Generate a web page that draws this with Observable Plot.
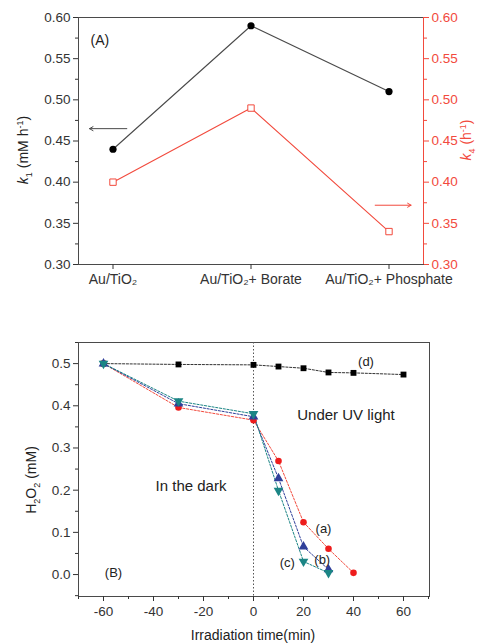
<!DOCTYPE html>
<html><head><meta charset="utf-8">
<script src="https://cdn.jsdelivr.net/npm/d3@7"></script>
<script src="https://cdn.jsdelivr.net/npm/@observablehq/plot@0.6"></script>
<style>
body{margin:0;background:#fff;width:481px;height:643px;position:relative;overflow:hidden;}
#a{position:absolute;left:0;top:0;}
#b{position:absolute;left:0;top:300px;}
</style></head>
<body><div id="a"></div><div id="b"></div>
<script>
// ---- Panel A data
const categories = ["Au/TiO₂", "Au/TiO₂+ Borate", "Au/TiO₂+ Phosphate"];
const k1 = [0.44, 0.59, 0.51];
const k4 = [0.40, 0.49, 0.34];
const yTicksA = [0.30, 0.35, 0.40, 0.45, 0.50, 0.55, 0.60];
const yMinorA = [0.325, 0.375, 0.425, 0.475, 0.525, 0.575];
const arrowK1 = [{x1: 0.10, x2: -0.17, y: 0.465}];
const arrowK4 = [{x1: 1.90, x2: 2.16, y: 0.372}];

// ---- Panel B data
const timeA = [-60, -30, 0, 10, 20, 30, 40];
const seriesA = [0.5, 0.396, 0.366, 0.269, 0.124, 0.061, 0.004];
const timeBC = [-60, -30, 0, 10, 20, 30];
const seriesB = [0.5, 0.405, 0.374, 0.228, 0.066, 0.012];
const seriesC = [0.5, 0.411, 0.381, 0.199, 0.031, 0.004];
const timeD = [-60, -30, 0, 10, 20, 30, 40, 60];
const seriesD = [0.5, 0.498, 0.497, 0.493, 0.489, 0.479, 0.478, 0.474];
const xTicksB = [-60, -40, -20, 0, 20, 40, 60];
const xMinorB = [-70, -50, -30, -10, 10, 30, 50, 70];
const yTicksB = [0, 0.1, 0.2, 0.3, 0.4, 0.5];
const yMinorB = [-0.05, 0.05, 0.15, 0.25, 0.35, 0.45, 0.55];
const notesB = [
  {x: 45, y: 0.505, t: "(d)", s: 13},
  {x: 37, y: 0.378, t: "Under UV light", s: 15},
  {x: -25, y: 0.21, t: "In the dark", s: 15},
  {x: 28, y: 0.108, t: "(a)", s: 13},
  {x: 27.5, y: 0.035, t: "(b)", s: 13},
  {x: 13.5, y: 0.028, t: "(c)", s: 13},
  {x: -56, y: 0.005, t: "(B)", s: 13}
];

const FONT = "Liberation Sans, Arial, Helvetica, sans-serif";
const RED = "#f24a3d";
const GRAY = "#4a4a4a";
const TS = 13.5;

const rowsA = categories.map((c, i) => ({i, k1: k1[i], k4: k4[i]}));

const plotA = Plot.plot({
  width: 481, height: 300,
  marginLeft: 78, marginRight: 58, marginTop: 17, marginBottom: 36,
  x: {domain: [-0.25, 2.25]},
  y: {domain: [0.30, 0.60]},
  style: {fontFamily: FONT, fontSize: "13px", color: "#333", background: "#fff"},
  marks: [
    Plot.frame({stroke: GRAY}),
    Plot.ruleX([2.25], {stroke: RED}),
    Plot.axisY({anchor: "left", ticks: yTicksA, tickFormat: d3.format(".2f"), tickSize: 5, tickPadding: 3, label: null, color: "#333", fontSize: TS}),
    Plot.axisY({anchor: "left", ticks: yMinorA, tickFormat: () => "", tickSize: 3, label: null, color: "#333"}),
    Plot.axisY({anchor: "right", ticks: yTicksA, tickFormat: d3.format(".2f"), tickSize: 5, tickPadding: 3, label: null, color: RED, fontSize: TS}),
    Plot.axisY({anchor: "right", ticks: yMinorA, tickFormat: () => "", tickSize: 3, label: null, color: RED}),
    Plot.axisX({ticks: [0, 1, 2], tickFormat: i => categories[i], tickSize: 5, tickPadding: 5, label: null, color: "#333", fontSize: 14}),
    Plot.line(rowsA, {x: "i", y: "k1", stroke: GRAY, strokeWidth: 1.1}),
    Plot.line(rowsA, {x: "i", y: "k4", stroke: RED, strokeWidth: 1.1}),
    Plot.dot(rowsA, {x: "i", y: "k1", fill: "#000", r: 3.6}),
    Plot.dot(rowsA, {x: "i", y: "k4", symbol: "square", fill: "#fff", stroke: RED, r: 3.6, strokeWidth: 1}),
    Plot.arrow(arrowK1, {x1: "x1", x2: "x2", y1: "y", y2: "y", stroke: GRAY, headLength: 6, strokeWidth: 1}),
    Plot.arrow(arrowK4, {x1: "x1", x2: "x2", y1: "y", y2: "y", stroke: RED, headLength: 6, strokeWidth: 1}),
    Plot.text(["(A)"], {frameAnchor: "top-left", dx: 12, dy: 18, fontSize: 14, fill: "#222"})
  ]
});
document.getElementById("a").appendChild(plotA);

// rich-text axis titles for panel A
{
  const svg = d3.select(plotA);
  const t1 = svg.append("text").attr("transform", "translate(28,150) rotate(-90)")
    .attr("text-anchor", "middle").attr("font-family", FONT).attr("font-size", 14).attr("fill", "#222");
  t1.append("tspan").attr("font-style", "italic").text("k");
  t1.append("tspan").attr("font-size", 9).attr("dy", 4).text("1");
  t1.append("tspan").attr("dy", -4).text(" (mM h");
  t1.append("tspan").attr("font-size", 9).attr("dy", -5).text("-1");
  t1.append("tspan").attr("dy", 5).text(")");
  const t4 = svg.append("text").attr("transform", "translate(471,140) rotate(-90)")
    .attr("text-anchor", "middle").attr("font-family", FONT).attr("font-size", 14).attr("fill", RED);
  t4.append("tspan").attr("font-style", "italic").text("k");
  t4.append("tspan").attr("font-size", 9).attr("dy", 4).text("4");
  t4.append("tspan").attr("dy", -4).text(" (h");
  t4.append("tspan").attr("font-size", 9).attr("dy", -5).text("-1");
  t4.append("tspan").attr("dy", 5).text(")");
}

const rowsAa = timeA.map((t, i) => ({t, v: seriesA[i]}));
const rowsB = timeBC.map((t, i) => ({t, v: seriesB[i]}));
const rowsC = timeBC.map((t, i) => ({t, v: seriesC[i]}));
const rowsD = timeD.map((t, i) => ({t, v: seriesD[i]}));

const BLUE = "#2f3f9a";
const TEAL = "#1b8585";
const dash = "2.2,1.6";

const plotB = Plot.plot({
  width: 481, height: 343,
  marginLeft: 78, marginRight: 52, marginTop: 42, marginBottom: 47,
  x: {domain: [-70, 70.4]},
  y: {domain: [-0.052, 0.55]},
  style: {fontFamily: FONT, fontSize: "13px", color: "#333", background: "#fff"},
  marks: [
    Plot.frame({stroke: GRAY}),
    Plot.ruleX([0], {stroke: "#555", strokeDasharray: "1.5,2", strokeWidth: 1}),
    Plot.axisY({anchor: "left", ticks: yTicksB, tickFormat: d3.format(".1f"), tickSize: 5, tickPadding: 3, label: null, color: "#333", fontSize: TS}),
    Plot.axisY({anchor: "left", ticks: yMinorB, tickFormat: () => "", tickSize: 3, label: null, color: "#333"}),
    Plot.axisX({ticks: xTicksB, tickFormat: d => String(d), tickSize: 5, tickPadding: 5, label: null, color: "#333", fontSize: TS}),
    Plot.axisX({ticks: xMinorB, tickFormat: () => "", tickSize: 3, label: null, color: "#333"}),
    Plot.line(rowsD, {x: "t", y: "v", stroke: "#333", strokeDasharray: dash, strokeWidth: 1}),
    Plot.line(rowsAa, {x: "t", y: "v", stroke: RED, strokeDasharray: dash, strokeWidth: 1}),
    Plot.line(rowsB, {x: "t", y: "v", stroke: BLUE, strokeDasharray: dash, strokeWidth: 1}),
    Plot.line(rowsC, {x: "t", y: "v", stroke: TEAL, strokeDasharray: dash, strokeWidth: 1}),
    Plot.dot(rowsD, {x: "t", y: "v", symbol: "square", fill: "#000", r: 3.3}),
    Plot.dot(rowsAa, {x: "t", y: "v", fill: "#ee1c1c", r: 3.3}),
    Plot.dot(rowsB, {x: "t", y: "v", symbol: "triangle", fill: BLUE, r: 3.6}),
    Plot.dot(rowsC, {x: "t", y: "v", symbol: "triangle", rotate: 180, fill: TEAL, r: 3.6}),
    Plot.text(notesB, {x: "x", y: "y", text: "t", fontSize: "s", fill: "#222"})
  ]
});
document.getElementById("b").appendChild(plotB);

{
  const svg = d3.select(plotB);
  const t = svg.append("text").attr("transform", "translate(36,180) rotate(-90)")
    .attr("text-anchor", "middle").attr("font-family", FONT).attr("font-size", 14).attr("fill", "#222");
  t.append("tspan").text("H");
  t.append("tspan").attr("font-size", 9).attr("dy", 4).text("2");
  t.append("tspan").attr("dy", -4).text("O");
  t.append("tspan").attr("font-size", 9).attr("dy", 4).text("2");
  t.append("tspan").attr("dy", -4).text(" (mM)");
  svg.append("text").attr("x", 253).attr("y", 340).attr("text-anchor", "middle")
    .attr("font-family", FONT).attr("font-size", 14).attr("fill", "#222").text("Irradiation time(min)");
}
</script></body></html>
